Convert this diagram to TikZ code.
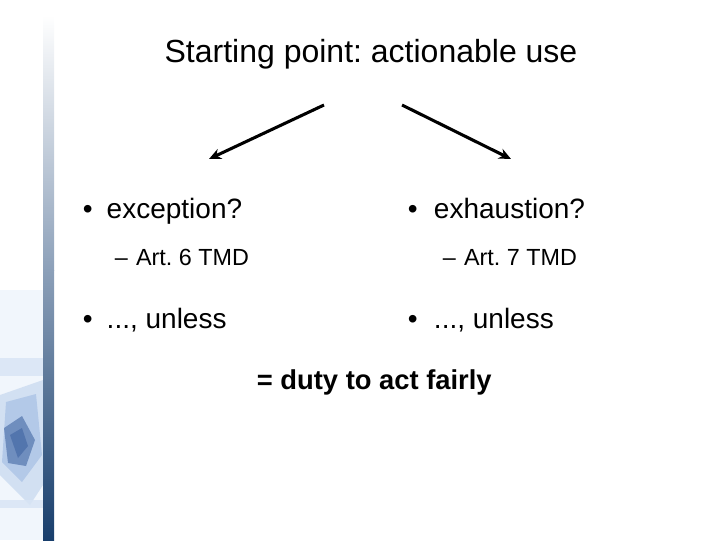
\documentclass[tikz,border=0pt]{standalone}
\usepackage{fontspec}
\setmainfont{Liberation Sans}
\usetikzlibrary{arrows.meta}
\frenchspacing

\definecolor{barTop}{RGB}{255,255,255}
\definecolor{barMid}{RGB}{140,160,185}
\definecolor{barBot}{RGB}{24,62,108}
\definecolor{decoLight}{RGB}{215,228,245}
\definecolor{decoMid}{RGB}{120,160,215}
\definecolor{decoDark}{RGB}{30,70,140}

\tikzset{every picture/.style={line width=0.75pt}}
\tikzset{
  headline/.style={anchor=base, font=\fontsize{24}{28}\selectfont},
  bulletline/.style={anchor=base west, font=\fontsize{21}{25}\selectfont},
  subline/.style={anchor=base west, font=\fontsize{17.5}{21}\selectfont},
  pointer/.style={line width=2.3pt, -{Stealth[length=9pt,width=8pt]}}
}

\begin{document}
\begin{tikzpicture}[x=0.75pt,y=0.75pt,yscale=-1,xscale=1]
\path[use as bounding box] (0,0) rectangle (720,540);

%Shape: left bar
\shade[top color=barTop, bottom color=barMid] (43,15) rectangle (54,270);
\shade[top color=barMid, bottom color=barBot] (43,270) rectangle (54,540);

%Shape: decoration
\fill[decoLight, opacity=0.35] (0,290) rectangle (43,540);
\fill[decoLight, opacity=0.8] (0,358) rectangle (43,376);
\fill[decoMid, opacity=0.25] (0,395) -- (43,380) -- (43,485) -- (30,505) -- (0,475) -- cycle;
\fill[decoMid, opacity=0.35] (6,402) -- (36,394) -- (42,455) -- (22,482) -- (2,462) -- cycle;
\fill[decoDark, opacity=0.45] (4,428) -- (22,416) -- (35,440) -- (26,466) -- (8,463) -- cycle;
\fill[decoDark, opacity=0.35] (10,435) -- (22,428) -- (28,446) -- (18,458) -- cycle;
\fill[decoLight, opacity=0.8] (0,500) rectangle (43,508);

% Text Node
\node[headline] (title) at (371,62) {Starting point: actionable use};

%Straight Lines
\coordinate (leftStart) at (324,105);
\coordinate (leftEnd) at (209,159);
\coordinate (rightStart) at (402,105);
\coordinate (rightEnd) at (511,159);
\draw[pointer] (leftStart) -- (leftEnd);
\draw[pointer] (rightStart) -- (rightEnd);

% Text Node
\node[bulletline] (exception) at (78,218) {•\hspace{0.5em}exception?};
% Text Node
\node[subline] (artSix) at (110,265) {–\hspace{0.35em}Art. 6 TMD};
% Text Node
\node[bulletline] (unlessLeft) at (78,328) {•\hspace{0.5em}..., unless};

% Text Node
\node[bulletline] (exhaustion) at (403,218) {•\hspace{0.58em}exhaustion?};
% Text Node
\node[subline] (artSeven) at (438,265) {–\hspace{0.35em}Art. 7 TMD};
% Text Node
\node[bulletline] (unlessRight) at (403,328) {•\hspace{0.58em}..., unless};

% Text Node
\node[bulletline, font=\fontsize{20.5}{25}\selectfont\bfseries] (fairly) at (252,389) {= duty to act fairly};

\end{tikzpicture}
\end{document}
